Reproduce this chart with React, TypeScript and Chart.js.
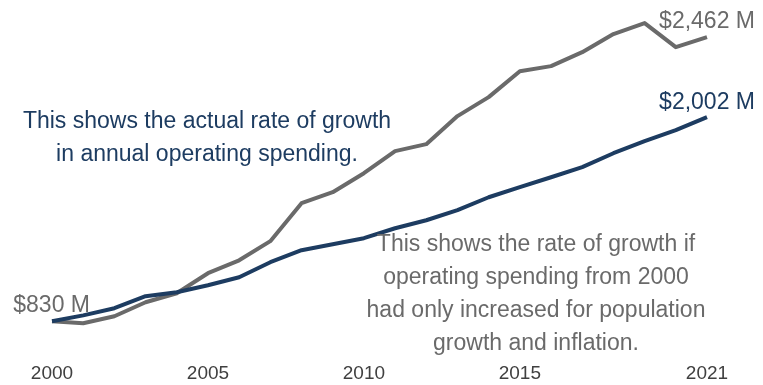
import React, { useEffect, useRef } from "react";
import { Chart, registerables } from "chart.js";

Chart.register(...registerables);

const years = [
  "2000", "2001", "2002", "2003", "2004", "2005", "2006", "2007", "2008", "2009", "2010",
  "2011", "2012", "2013", "2014", "2015", "2016", "2017", "2018", "2019", "2020", "2021",
];
const tickLabels = ["2000", "2005", "2010", "2015", "2021"];

// Actual annual operating spending ($M)
const actualSpending = [
  830, 819, 859, 939, 991, 1106, 1180, 1290, 1508, 1571, 1680,
  1807, 1847, 2008, 2117, 2266, 2295, 2375, 2479, 2542, 2404, 2462,
];
// Spending grown only for population growth and inflation ($M)
const adjustedSpending = [
  830, 864, 905, 974, 997, 1037, 1083, 1169, 1238, 1272, 1307,
  1364, 1410, 1468, 1542, 1600, 1657, 1715, 1795, 1864, 1927, 2002,
];

const startLabel = "$830 M";
const actualEndLabel = "$2,462 M";
const adjustedEndLabel = "$2,002 M";
const actualNote = ["This shows the actual rate of growth", "in annual operating spending."];
const adjustedNote = [
  "This shows the rate of growth if",
  "operating spending from 2000",
  "had only increased for population",
  "growth and inflation.",
];

const GRAY = "#6a6a6a";
const NAVY = "#1d3c61";
const FONT = "'Liberation Sans', Arial, sans-serif";

const textPlugin = {
  id: "textPlugin",
  afterDatasetsDraw(chart: any) {
    const ctx = chart.ctx;
    const xs = chart.scales.x;
    const ys = chart.scales.y;
    ctx.save();
    ctx.textBaseline = "alphabetic";
    ctx.font = `23px ${FONT}`;

    const x0 = xs.getPixelForValue(0);
    const xN = xs.getPixelForValue(years.length - 1);

    ctx.fillStyle = GRAY;
    ctx.textAlign = "right";
    ctx.fillText(startLabel, x0 + 38, ys.getPixelForValue(actualSpending[0]) - 9);
    ctx.fillText(actualEndLabel, xN + 48, ys.getPixelForValue(actualSpending[actualSpending.length - 1]) - 9);
    ctx.fillStyle = NAVY;
    ctx.fillText(adjustedEndLabel, xN + 48, ys.getPixelForValue(adjustedSpending[adjustedSpending.length - 1]) - 8);

    ctx.textAlign = "center";
    ctx.fillStyle = NAVY;
    actualNote.forEach((line, i) => {
      ctx.fillText(line, 207, 128 + i * 32.5);
    });
    ctx.fillStyle = GRAY;
    adjustedNote.forEach((line, i) => {
      ctx.fillText(line, 536, 251 + i * 33);
    });
    ctx.restore();
  },
};

export default function App() {
  const ref = useRef<HTMLCanvasElement | null>(null);
  useEffect(() => {
    if (!ref.current) return;
    const chart = new Chart(ref.current, {
      type: "line",
      data: {
        labels: years,
        datasets: [
          {
            label: "Population + inflation",
            data: adjustedSpending,
            borderColor: NAVY,
            borderWidth: 4,
            pointRadius: 0,
            tension: 0,
            borderJoinStyle: "round",
          },
          {
            label: "Actual",
            data: actualSpending,
            borderColor: GRAY,
            borderWidth: 4,
            pointRadius: 0,
            tension: 0,
            borderJoinStyle: "round",
          },
        ],
      },
      options: {
        animation: false,
        responsive: false,
        maintainAspectRatio: false,
        layout: { padding: { left: 52, right: 56, top: 13, bottom: 0 } },
        plugins: { legend: { display: false }, tooltip: { enabled: false } },
        scales: {
          x: {
            type: "category",
            offset: false,
            grid: { display: false, drawTicks: false },
            border: { display: false },
            ticks: {
              autoSkip: false,
              maxRotation: 0,
              padding: 0,
              color: "#404040",
              font: { family: FONT, size: 19 },
              callback: (_v: any, i: number) => (tickLabels.includes(years[i]) ? years[i] : ""),
            },
          },
          y: {
            display: false,
            min: 595,
            max: 2600,
          },
        },
      },
      plugins: [textPlugin],
    });
    return () => chart.destroy();
  }, []);
  return (
    <div style={{ position: "fixed", left: 0, top: 0, width: 763, height: 385, background: "#fff" }}>
      <canvas ref={ref} width={763} height={385} style={{ width: 763, height: 385 }} />
    </div>
  );
}
